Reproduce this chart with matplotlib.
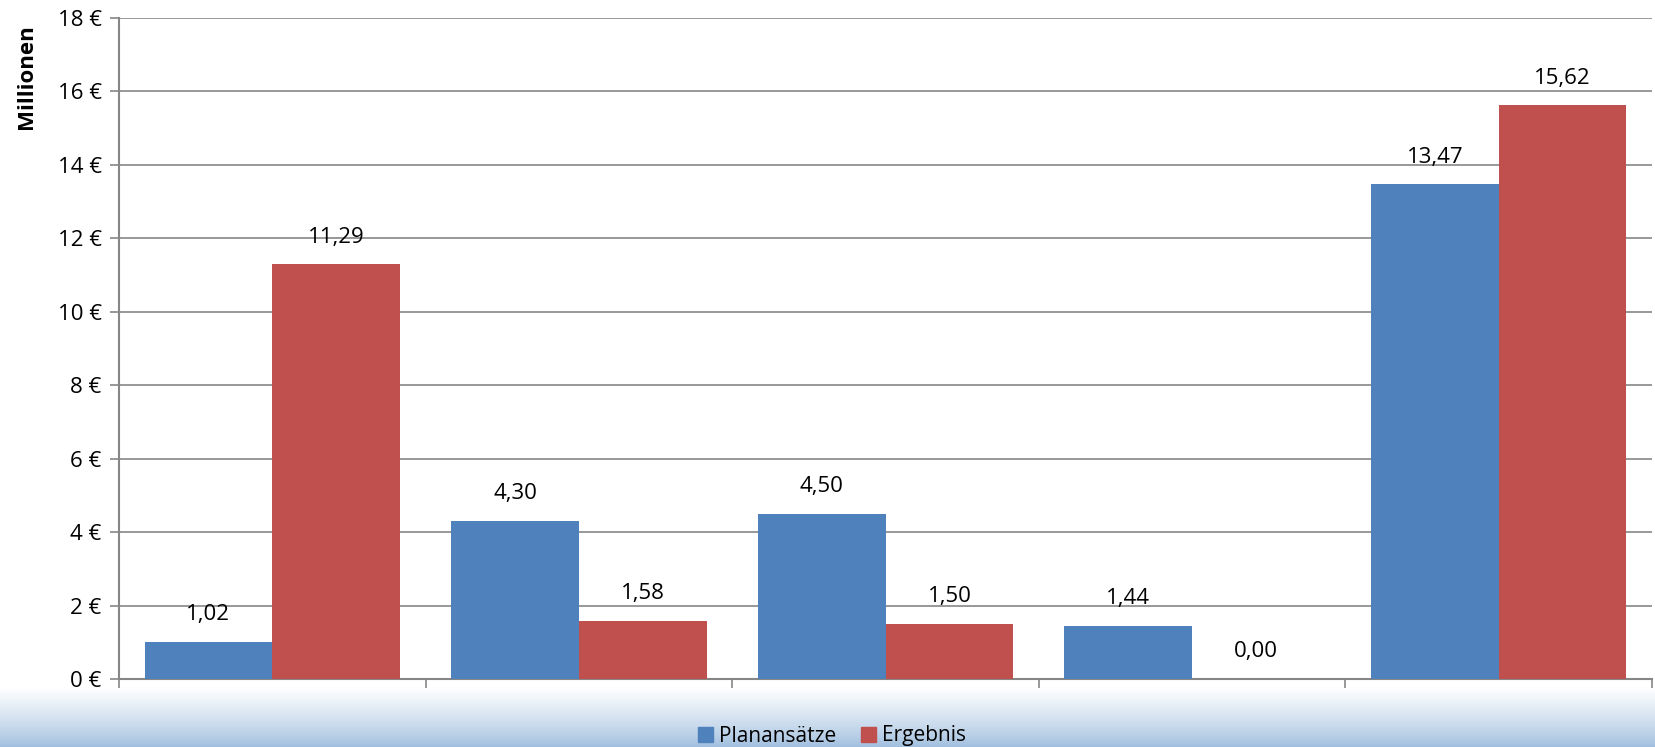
import matplotlib.pyplot as plt
import numpy as np
from matplotlib.patches import Patch
from matplotlib.colors import LinearSegmentedColormap

plt.rcParams['font.family'] = ['Open Sans', 'DejaVu Sans']

series_names = ["Planansätze", "Ergebnis"]
planansaetze = [1.02, 4.30, 4.50, 1.44, 13.47]
ergebnis = [11.29, 1.58, 1.50, 0.00, 15.62]
y_ticks = [0, 2, 4, 6, 8, 10, 12, 14, 16, 18]
y_labels = [f"{v} €" for v in y_ticks]

blue = "#4F81BD"
red = "#C0504D"
grid_col = "#868686"

W, H = 1655, 747
fig = plt.figure(figsize=(W / 100, H / 100), dpi=100)

# soft blue band along the bottom edge
bg = fig.add_axes([0, 0, 1, 60 / H], zorder=-5)
grad = np.linspace(0, 1, 100).reshape(-1, 1) ** 0.8
cmap = LinearSegmentedColormap.from_list("band", ["#9fbede", "#ffffff"])
bg.imshow(grad, aspect="auto", cmap=cmap, origin="lower", extent=[0, 1, 0, 1])
bg.axis("off")

ax = fig.add_axes([119 / W, (H - 679) / H, (1652 - 119) / W, (679 - 18) / H])
ax.set_facecolor("none")

x = np.arange(len(planansaetze))
w = 1 / 2.4
b1 = ax.bar(x - w / 2, planansaetze, w, color=blue, zorder=3)
b2 = ax.bar(x + w / 2, ergebnis, w, color=red, zorder=3)

for bars, vals in ((b1, planansaetze), (b2, ergebnis)):
    for bar, v in zip(bars, vals):
        ax.annotate(f"{v:.2f}".replace(".", ","),
                    (bar.get_x() + bar.get_width() / 2, v),
                    xytext=(0, 12), textcoords="offset points",
                    ha="center", va="bottom", fontsize=16, color="black")

ax.set_xlim(-0.5, len(x) - 0.5)
ax.set_ylim(0, 18)
ax.set_yticks(y_ticks)
ax.set_yticklabels(y_labels, fontsize=16)
ax.set_xticks(np.arange(-0.5, len(x), 1.0))
ax.set_xticklabels([])
ax.tick_params(axis="both", direction="out", length=6.5, width=1.2, color=grid_col, pad=6)
ax.yaxis.grid(True, color=grid_col, linewidth=1.2, zorder=0)
for side in ("top", "right"):
    ax.spines[side].set_visible(False)
for side in ("left", "bottom"):
    ax.spines[side].set_color(grid_col)
    ax.spines[side].set_linewidth(1.5)

fig.text(27 / W, 1 - 77 / H, "Millionen", rotation=90, ha="center", va="center",
         fontsize=16, fontweight="bold")

handles = [Patch(color=blue), Patch(color=red)]
fig.legend(handles, series_names, loc="center", ncol=2, frameon=False,
           bbox_to_anchor=(832 / W, 1 - 736 / H), fontsize=15,
           handlelength=0.7, handleheight=0.7, handletextpad=0.3, columnspacing=1.2)

fig.savefig("out.png", dpi=100)
